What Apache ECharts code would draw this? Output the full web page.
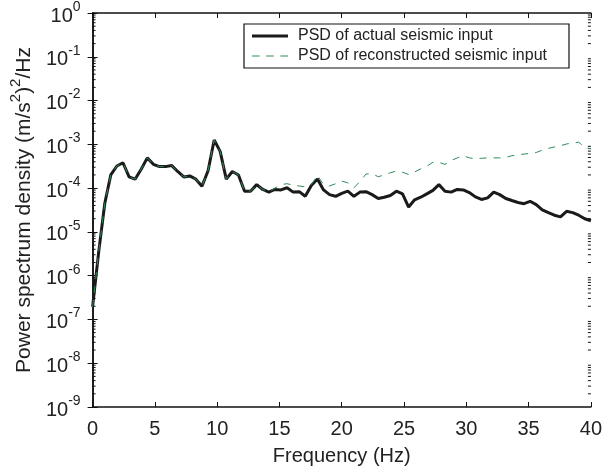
<!DOCTYPE html>
<html>
<head>
<meta charset="utf-8">
<script src="https://cdn.jsdelivr.net/npm/echarts@6/dist/echarts.min.js"></script>
<style>html,body{margin:0;padding:0;background:#fff;}#c{width:605px;height:474px;}</style>
</head>
<body>
<div id="c"></div>
<script>
var freq = [0, 0.49, 0.98, 1.46, 1.95, 2.44, 2.93, 3.41, 3.9, 4.39, 4.88, 5.37, 5.85, 6.34, 6.83, 7.32, 7.8, 8.29, 8.78, 9.27, 9.76, 10.24, 10.73, 11.22, 11.71, 12.2, 12.68, 13.17, 13.66, 14.15, 14.63, 15.12, 15.61, 16.1, 16.59, 17.07, 17.56, 18.05, 18.54, 19.02, 19.51, 20, 20.49, 20.98, 21.46, 21.95, 22.44, 22.93, 23.41, 23.9, 24.39, 24.88, 25.37, 25.85, 26.34, 26.83, 27.32, 27.8, 28.29, 28.78, 29.27, 29.76, 30.24, 30.73, 31.22, 31.71, 32.2, 32.68, 33.17, 33.66, 34.15, 34.63, 35.12, 35.61, 36.1, 36.59, 37.07, 37.56, 38.05, 38.54, 39.02, 39.51, 40];

var psdActual = [1.95e-7, 3.5e-6, 4.5e-5, 2.0e-4, 3.2e-4, 3.8e-4, 1.8e-4, 1.6e-4, 2.7e-4, 4.9e-4,
  3.5e-4, 3.1e-4, 3.1e-4, 3.3e-4, 2.4e-4, 1.8e-4, 1.9e-4, 1.6e-4, 1.1e-4, 2.5e-4,
  1.26e-3, 6.9e-4, 1.6e-4, 2.4e-4, 2.0e-4, 8.5e-5, 8.5e-5, 1.2e-4, 9.3e-5, 8.1e-5,
  9.3e-5, 9.1e-5, 1.02e-4, 8.1e-5, 8.3e-5, 6.5e-5, 1.15e-4, 1.62e-4, 9.1e-5, 7.1e-5,
  6.5e-5, 7.6e-5, 8.5e-5, 6.5e-5, 8.1e-5, 8.3e-5, 7.1e-5, 5.8e-5, 6.2e-5, 6.8e-5,
  8.5e-5, 7.4e-5, 3.7e-5, 5.4e-5, 6.2e-5, 7.4e-5, 8.9e-5, 1.2e-4, 8.5e-5, 8.1e-5,
  9.3e-5, 9.1e-5, 7.9e-5, 6.3e-5, 5.5e-5, 6.0e-5, 8.1e-5, 7.1e-5, 5.8e-5, 5.2e-5,
  4.7e-5, 4.4e-5, 5.0e-5, 4.2e-5, 3.2e-5, 2.75e-5, 2.4e-5, 2.2e-5, 2.95e-5, 2.75e-5,
  2.4e-5, 2.0e-5, 1.8e-5];

var psdRecon = [1.95e-7, 3.5e-6, 4.5e-5, 2.0e-4, 3.2e-4, 3.8e-4, 1.8e-4, 1.6e-4, 2.7e-4, 4.9e-4,
  3.5e-4, 3.1e-4, 3.1e-4, 3.3e-4, 2.4e-4, 1.8e-4, 1.9e-4, 1.6e-4, 1.1e-4, 2.5e-4,
  1.26e-3, 6.9e-4, 1.6e-4, 2.4e-4, 2.0e-4, 8.5e-5, 8.5e-5, 1.2e-4, 9.3e-5, 8.1e-5,
  1.0e-4, 1.2e-4, 1.26e-4, 1.17e-4, 1.12e-4, 1.07e-4, 1.2e-4, 1.95e-4, 1.2e-4, 1.12e-4,
  1.26e-4, 1.45e-4, 1.32e-4, 1.02e-4, 1.41e-4, 2.1e-4, 2.14e-4, 1.82e-4, 2.0e-4, 2.24e-4,
  2.45e-4, 2.3e-4, 2.04e-4, 2.34e-4, 2.75e-4, 3.16e-4, 3.9e-4, 3.9e-4, 3.47e-4, 4.27e-4,
  4.9e-4, 5.5e-4, 4.9e-4, 4.7e-4, 4.8e-4, 4.9e-4, 4.9e-4, 4.9e-4, 5.0e-4, 5.5e-4,
  5.75e-4, 6.0e-4, 6.2e-4, 6.5e-4, 7.4e-4, 8.1e-4, 8.7e-4, 9.3e-4, 1.02e-3, 1.07e-3,
  1.12e-3, 8.5e-4, 7.9e-4];

var xTicks = [0, 5, 10, 15, 20, 25, 30, 35, 40];
var yExponents = [-9, -8, -7, -6, -5, -4, -3, -2, -1, 0];

var FONT = '"Liberation Sans", Arial, Helvetica, sans-serif';
var chart = echarts.init(document.getElementById('c'), null, {renderer: 'canvas'});

function pairs(ys) { return freq.map(function (f, i) { return [f, ys[i]]; }); }

var yLabelRich = {
  b: {fontSize: 20, fontFamily: FONT, color: '#222', lineHeight: 26, verticalAlign: 'bottom'},
  s: {fontSize: 14, fontFamily: FONT, color: '#222', lineHeight: 14, verticalAlign: 'top'}
};
var yNameRich = {
  b: {fontSize: 21, fontFamily: FONT, color: '#222', lineHeight: 27, verticalAlign: 'bottom'},
  s: {fontSize: 15, fontFamily: FONT, color: '#222', lineHeight: 15, verticalAlign: 'top'}
};

var option = {
  animation: false,
  backgroundColor: '#fff',
  grid: {left: 92, right: 14, top: 12, bottom: 67, containLabel: false},
  legend: {
    show: true, orient: 'vertical', left: 244, top: 24,
    padding: [4, 22, 4, 8], itemGap: 4, itemWidth: 36, itemHeight: 14,
    borderColor: '#111', borderWidth: 1.2, backgroundColor: '#fff',
    textStyle: {fontSize: 16, fontFamily: FONT, color: '#222', padding: [0, 0, 0, 5]},
    data: [
      {name: 'PSD of actual seismic input', icon: 'path://M0,0 L36,0 L36,3 L0,3 Z', itemStyle: {color: '#1a1a1a'}},
      {name: 'PSD of reconstructed seismic input', icon: 'path://M0,0 L7,0 L7,1 L0,1 Z M13,0 L20,0 L20,1 L13,1 Z M26,0 L33,0 L33,1 L26,1 Z', itemStyle: {color: '#2e8b57'}}
    ]
  },
  xAxis: [{
    type: 'value', min: 0, max: 40, interval: 5,
    name: 'Frequency (Hz)', nameLocation: 'middle', nameGap: 39,
    nameTextStyle: {fontSize: 20, fontFamily: FONT, color: '#222'},
    axisLine: {show: true, lineStyle: {color: '#111', width: 1.5}},
    axisTick: {show: true, inside: true, length: 5, lineStyle: {color: '#111', width: 1}},
    axisLabel: {show: true, fontSize: 20, fontFamily: FONT, color: '#222', margin: 12,
      formatter: function (v) { return xTicks.indexOf(v) >= 0 ? String(v) : ''; }},
    splitLine: {show: false}
  }, {
    type: 'value', min: 0, max: 40, interval: 5, position: 'top',
    axisLine: {show: true, lineStyle: {color: '#111', width: 1.5}},
    axisTick: {show: true, inside: true, length: 5, lineStyle: {color: '#111', width: 1}},
    axisLabel: {show: false}, splitLine: {show: false}
  }],
  yAxis: [{
    type: 'log', logBase: 10, min: 1e-9, max: 1, interval: 1,
    name: '{b|Power spectrum density (m/s}{s|2}{b|)}{s|2}{b|/Hz}',
    nameLocation: 'middle', nameGap: 50, nameRotate: 90,
    nameTextStyle: {fontSize: 21, fontFamily: FONT, color: '#222', rich: yNameRich},
    axisLine: {show: true, lineStyle: {color: '#111', width: 1.5}},
    axisTick: {show: true, inside: true, length: 5, lineStyle: {color: '#111', width: 1}},
    axisLabel: {show: true, margin: 12, fontSize: 20, fontFamily: FONT, color: '#222', rich: yLabelRich,
      formatter: function (v) {
        var n = Math.round(Math.log10(v));
        return yExponents.indexOf(n) >= 0 ? '{b|10}{s|' + n + '}' : '';
      }},
    splitLine: {show: false}
  }, {
    type: 'log', logBase: 10, min: 1e-9, max: 1, interval: 1, position: 'right',
    axisLine: {show: true, lineStyle: {color: '#111', width: 1.5}},
    axisTick: {show: true, inside: true, length: 5, lineStyle: {color: '#111', width: 1}},
    axisLabel: {show: false}, splitLine: {show: false}
  }],
  series: [{
    name: 'PSD of actual seismic input', type: 'line', data: pairs(psdActual),
    showSymbol: false, symbol: 'none', clip: true,
    lineStyle: {color: '#1a1a1a', width: 3}, itemStyle: {color: '#1a1a1a'}, z: 2
  }, {
    name: 'PSD of reconstructed seismic input', type: 'line', data: pairs(psdRecon),
    showSymbol: false, symbol: 'none', clip: true,
    lineStyle: {color: '#2e8b57', width: 1, type: [7, 7]}, itemStyle: {color: '#2e8b57'}, z: 3
  }]
};
chart.setOption(option);

// log minor ticks on left and right axes, positioned through the axis scale
var g = [];
var xl = chart.convertToPixel({xAxisIndex: 0}, 0);
var xr = chart.convertToPixel({xAxisIndex: 0}, 40);
for (var d = -9; d < 0; d++) {
  for (var k = 2; k <= 9; k++) {
    var y = chart.convertToPixel({yAxisIndex: 0}, k * Math.pow(10, d));
    g.push({type: 'line', shape: {x1: xl, y1: y, x2: xl + 3, y2: y}, style: {stroke: '#111', lineWidth: 1}, silent: true});
    g.push({type: 'line', shape: {x1: xr - 3, y1: y, x2: xr, y2: y}, style: {stroke: '#111', lineWidth: 1}, silent: true});
  }
}
chart.setOption({graphic: g});
</script>
</body>
</html>
